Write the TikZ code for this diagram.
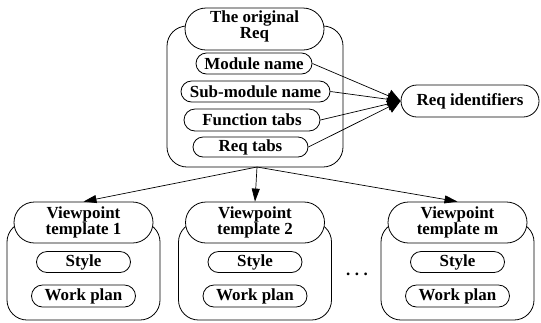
\documentclass[tikz,border=0pt]{standalone}
\usepackage{fontspec}
\setmainfont{Liberation Serif}
\usetikzlibrary{shapes.misc,arrows.meta}
\begin{document}
\begin{tikzpicture}[x=1bp,y=-1bp,
  every node/.style={font=\bfseries\fontsize{17}{14}\selectfont, inner sep=0pt, align=center},
  outerbox/.style={draw, rectangle, rounded corners=20bp, line width=0.8bp},
  pill/.style={draw, rounded rectangle, fill=white, line width=0.8bp},
  conn/.style={line width=0.7bp, -{Triangle[length=13bp,width=13bp]}},
  down/.style={line width=0.7bp, -{Triangle[length=13bp,width=8bp]}}]
\useasboundingbox (0,0) rectangle (541,322);
% top group
\node[outerbox, minimum width=176bp, minimum height=141bp] (reqbox) at (255,96.5) {};
\node[pill, minimum width=139bp, minimum height=42bp, font=\bfseries\fontsize{17}{11.5}\selectfont] (orig) at (254.5,29) {The original\\Req\rule[-9bp]{0pt}{0pt}};
\node[pill, minimum width=116bp, minimum height=21bp] (mod) at (254,63.5) {Module name};
\node[pill, minimum width=149bp, minimum height=21bp] (sub) at (255.5,91.5) {Sub-module name};
\node[pill, minimum width=136bp, minimum height=22bp] (fun) at (252,120) {Function tabs};
\node[pill, minimum width=115bp, minimum height=20bp] (tabs) at (250.5,147) {Req tabs};
\node[pill, minimum width=138bp, minimum height=32bp] (rid) at (470,101) {Req identifiers};
% bottom groups
\foreach \n/\x/\lab in {v1/83.5/1, v2/255/2, vm/457.5/m}{
  \node[outerbox, minimum width=153bp, minimum height=98bp] (\n box) at (\x,271) {};
  \node[pill, minimum width=139bp, minimum height=41bp] (\n) at (\x,222.5) {Viewpoint\\template \lab\rule[-3bp]{0pt}{0pt}};
  \node[pill, minimum width=94bp, minimum height=21bp] (\n style) at (\x,262) {Style};
  \node[pill, minimum width=104bp, minimum height=22bp] (\n plan) at (\x,296) {Work plan};
}
\node (dots) at (357,274) {.\hspace{4.5bp}.\hspace{4.5bp}.};
% connectors
\foreach \s in {mod,sub,fun,tabs}{
  \draw[conn] (\s.east) -- (rid.west);
}
\coordinate (split) at (257,167);
\draw[down] (split) -- (v1.north);
\draw[down] (split) -- (v2.north);
\draw[down] (split) -- (vm.north);
\end{tikzpicture}
\end{document}
